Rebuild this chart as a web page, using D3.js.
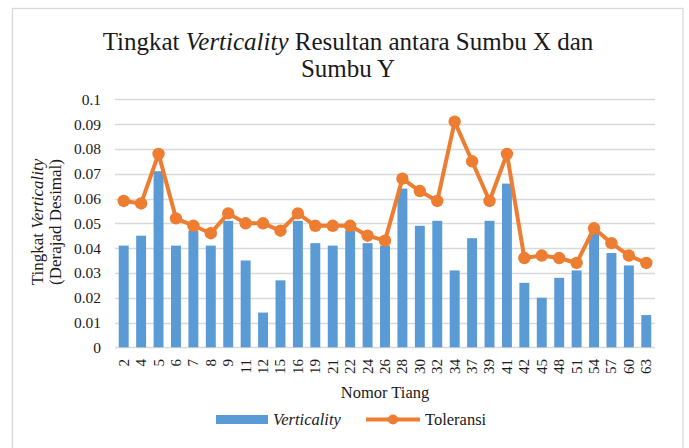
<!DOCTYPE html>
<html><head><meta charset="utf-8">
<script src="https://cdn.jsdelivr.net/npm/d3@7"></script>
<style>
html,body{margin:0;padding:0;background:#fff;}
svg{display:block;font-family:"Liberation Serif","Times New Roman",serif;}
</style></head>
<body><svg id="chart" width="689" height="448"></svg>
<script>
const categories = ["2","4","5","6","7","8","9","11","12","15","16","19","21","22","24","26","28","30","32","34","37","39","41","42","45","48","51","54","57","60","63"];
const verticality = [0.041,0.045,0.071,0.041,0.047,0.041,0.051,0.035,0.014,0.027,0.051,0.042,0.041,0.047,0.042,0.041,0.064,0.049,0.051,0.031,0.044,0.051,0.066,0.026,0.020,0.028,0.031,0.046,0.038,0.033,0.013];
const toleransi = [0.059,0.058,0.078,0.052,0.049,0.046,0.054,0.050,0.050,0.047,0.054,0.049,0.049,0.049,0.045,0.043,0.068,0.063,0.059,0.091,0.075,0.059,0.078,0.036,0.037,0.036,0.034,0.048,0.042,0.037,0.034];
const yTicks = [0,0.01,0.02,0.03,0.04,0.05,0.06,0.07,0.08,0.09,0.1];
const yTickLabels = ["0","0.01","0.02","0.03","0.04","0.05","0.06","0.07","0.08","0.09","0.1"];

const BLUE = "#5B9BD5", ORANGE = "#ED7D31", GRID = "#D9D9D9", TXT = "#1a1a1a";
const svg = d3.select("#chart");

// outer chart border
svg.append("rect").attr("x",12.5).attr("y",8.5).attr("width",670.5).attr("height",460)
  .attr("fill","#fff").attr("stroke",GRID).attr("stroke-width",1.3);

const x = d3.scaleBand().domain(categories).range([115,655]).paddingInner(0.43).paddingOuter(0.215);
const y = d3.scaleLinear().domain([0,0.1]).range([347.3,99.3]);

// gridlines
svg.append("g").selectAll("line").data(yTicks).join("line")
  .attr("x1",115).attr("x2",655)
  .attr("y1",d=>Math.round(y(d))+0.5).attr("y2",d=>Math.round(y(d))+0.5)
  .attr("stroke",GRID).attr("stroke-width",1.5);

// y axis labels
const yAxis = d3.axisLeft(y).tickValues(yTicks).tickSize(0).tickPadding(0)
  .tickFormat((d,i)=>yTickLabels[i]);
const gy = svg.append("g").attr("transform","translate(101,0)").call(yAxis);
gy.select(".domain").remove();
gy.selectAll("text").attr("font-size",15.5).attr("fill",TXT).attr("font-family","Liberation Serif");

// bars
svg.append("g").selectAll("rect").data(verticality).join("rect")
  .attr("x",(d,i)=>x(categories[i])).attr("width",x.bandwidth())
  .attr("y",d=>y(d)).attr("height",d=>y(0)-y(d)).attr("fill",BLUE);

// line
const cx = i => x(categories[i]) + x.bandwidth()/2;
const line = d3.line().x((d,i)=>cx(i)).y(d=>y(d));
svg.append("path").datum(toleransi).attr("d",line).attr("fill","none")
  .attr("stroke",ORANGE).attr("stroke-width",4).attr("stroke-linejoin","round");
svg.append("g").selectAll("circle").data(toleransi).join("circle")
  .attr("cx",(d,i)=>cx(i)).attr("cy",d=>y(d)).attr("r",6.2).attr("fill",ORANGE);

// x axis labels
const xAxis = d3.axisBottom(x).tickSize(0).tickPadding(0);
const gx = svg.append("g").attr("transform","translate(0,347)").call(xAxis);
gx.select(".domain").remove();
gx.selectAll("text").attr("font-size",15).attr("fill",TXT).attr("font-family","Liberation Serif")
  .attr("transform","rotate(-90)").attr("text-anchor","end")
  .attr("x",-12).attr("y",0).attr("dy","0.33em");

// title
const title = svg.append("text").attr("text-anchor","middle").attr("font-size",25).attr("fill",TXT);
title.append("tspan").attr("x",348).attr("y",50).text("Tingkat ");
title.append("tspan").attr("font-style","italic").text("Verticality");
title.append("tspan").text(" Resultan antara Sumbu X dan");
svg.append("text").attr("text-anchor","middle").attr("font-size",25).attr("fill",TXT)
  .attr("x",348).attr("y",77).text("Sumbu Y");

// y axis title
const yt = svg.append("g").attr("transform","translate(37,222) rotate(-90)");
const yt1 = yt.append("text").attr("text-anchor","middle").attr("dominant-baseline","central")
  .attr("font-size",17).attr("fill",TXT);
yt1.append("tspan").text("Tingkat ");
yt1.append("tspan").attr("font-style","italic").text("Verticality");
svg.append("text").attr("transform","translate(55,222) rotate(-90)")
  .attr("text-anchor","middle").attr("dominant-baseline","central")
  .attr("font-size",17).attr("fill",TXT).text("(Derajad Desimal)");

// x axis title
svg.append("text").attr("x",385).attr("y",398).attr("text-anchor","middle")
  .attr("font-size",16.5).attr("fill",TXT).text("Nomor Tiang");

// legend
const lg = svg.append("g");
lg.append("rect").attr("x",216).attr("y",415).attr("width",52).attr("height",9).attr("fill",BLUE);
lg.append("text").attr("x",273).attr("y",425).attr("font-size",16.5).attr("font-style","italic")
  .attr("fill",TXT).text("Verticality");
lg.append("line").attr("x1",366).attr("x2",420).attr("y1",419.5).attr("y2",419.5)
  .attr("stroke",ORANGE).attr("stroke-width",4);
lg.append("circle").attr("cx",393).attr("cy",419.5).attr("r",5).attr("fill",ORANGE);
lg.append("text").attr("x",425).attr("y",425).attr("font-size",16.5).attr("fill",TXT).text("Toleransi");
</script></body></html>
